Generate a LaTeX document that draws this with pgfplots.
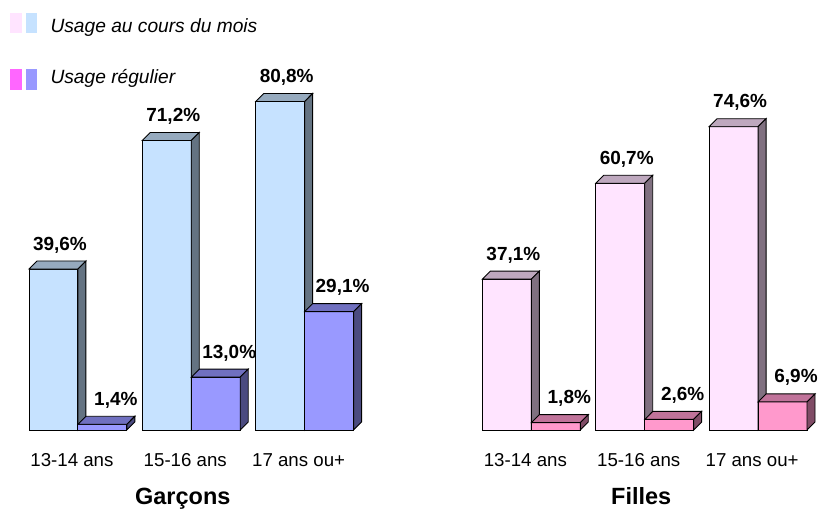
\documentclass[border=0pt]{standalone}
\usepackage{fontspec}
\setmainfont{Liberation Sans}
\usepackage{pgfplots}
\pgfplotsset{compat=1.18}
\definecolor{bmF}{HTML}{C6E2FF}\definecolor{bmT}{HTML}{96AABE}\definecolor{bmS}{HTML}{647382}
\definecolor{brF}{HTML}{9999FF}\definecolor{brT}{HTML}{7070C0}\definecolor{brS}{HTML}{4B4B80}
\definecolor{gmF}{HTML}{FFE4FF}\definecolor{gmT}{HTML}{BEA8BE}\definecolor{gmS}{HTML}{807080}
\definecolor{grF}{HTML}{FF99CC}\definecolor{grT}{HTML}{C0739A}\definecolor{grS}{HTML}{804C66}
\definecolor{legGR}{HTML}{FF66FF}
\pgfplotsset{
  face/.style={draw=black, line width=0.9pt, forget plot},
  front/.style={face, ybar, bar width=49, bar shift=0pt,
    nodes near coords={\pgfmathprintnumber[fixed,fixed zerofill,precision=1,use comma]{\pgfplotspointmeta}\%},
    every node near coord/.append style={font=\fontsize{19}{22}\bfseries\selectfont, text=black, anchor=base, yshift=19pt}},
  frontM/.style={front, every node near coord/.append style={xshift=6.5pt}},
  frontR/.style={front, every node near coord/.append style={xshift=13.5pt}},
}
\begin{document}
\begin{tikzpicture}
\begin{axis}[
  width=821pt, height=515pt, scale only axis,
  xmin=0, xmax=821, ymin=-20.76, ymax=105.77,
  axis lines=none, clip=false,
  /pgf/number format/assume math mode=true,
  legend cell align=left,
  legend style={at={(axis cs:10,102.9)}, anchor=north west, draw=none, fill=none,
    inner sep=0pt, row sep=23pt, nodes={inner sep=0pt},
    font=\fontsize{19.2}{22}\itshape\selectfont},
]
\path (rel axis cs:0,0) rectangle (rel axis cs:1,1);
\addlegendimage{legend image code/.code={\fill[gmF] (0pt,-6.1pt) rectangle (11pt,13.2pt); \fill[bmF] (16pt,-6.1pt) rectangle (26pt,13.2pt); \path (0pt,-14pt) (40pt,14pt);}}
\addlegendentry{Usage au cours du mois}
\addlegendimage{legend image code/.code={\fill[legGR] (0pt,-11.8pt) rectangle (11pt,8.2pt); \fill[brF] (16pt,-11.8pt) rectangle (26pt,8.2pt); \path (0pt,-14pt) (40pt,14pt);}}
\addlegendentry{Usage régulier}

% Garcons 13-14
\addplot[frontM, fill=bmF] coordinates {(53.5,39.6)};
\addplot[face, fill=bmT] coordinates {(29,39.6)(78,39.6)(86,41.57)(37,41.57)} -- cycle;
\addplot[face, fill=bmS] coordinates {(78,0)(86,1.97)(86,41.57)(78,39.6)} -- cycle;
\addplot[frontR, fill=brF] coordinates {(102.5,1.4)};
\addplot[face, fill=brT] coordinates {(78,1.4)(127,1.4)(135,3.37)(86,3.37)} -- cycle;
\addplot[face, fill=brS] coordinates {(127,0)(135,1.97)(135,3.37)(127,1.4)} -- cycle;
% Garcons 15-16
\addplot[frontM, fill=bmF] coordinates {(167,71.2)};
\addplot[face, fill=bmT] coordinates {(142.5,71.2)(191.5,71.2)(199.5,73.17)(150.5,73.17)} -- cycle;
\addplot[face, fill=bmS] coordinates {(191.5,0)(199.5,1.97)(199.5,73.17)(191.5,71.2)} -- cycle;
\addplot[frontR, fill=brF] coordinates {(216,13.0)};
\addplot[face, fill=brT] coordinates {(191.5,13)(240.5,13)(248.5,14.97)(199.5,14.97)} -- cycle;
\addplot[face, fill=brS] coordinates {(240.5,0)(248.5,1.97)(248.5,14.97)(240.5,13)} -- cycle;
% Garcons 17+
\addplot[frontM, fill=bmF] coordinates {(280.5,80.8)};
\addplot[face, fill=bmT] coordinates {(256,80.8)(305,80.8)(313,82.77)(264,82.77)} -- cycle;
\addplot[face, fill=bmS] coordinates {(305,0)(313,1.97)(313,82.77)(305,80.8)} -- cycle;
\addplot[frontR, fill=brF] coordinates {(329.5,29.1)};
\addplot[face, fill=brT] coordinates {(305,29.1)(354,29.1)(362,31.07)(313,31.07)} -- cycle;
\addplot[face, fill=brS] coordinates {(354,0)(362,1.97)(362,31.07)(354,29.1)} -- cycle;
% Filles 13-14
\addplot[frontM, fill=gmF] coordinates {(507.5,37.1)};
\addplot[face, fill=gmT] coordinates {(483,37.1)(532,37.1)(540,39.07)(491,39.07)} -- cycle;
\addplot[face, fill=gmS] coordinates {(532,0)(540,1.97)(540,39.07)(532,37.1)} -- cycle;
\addplot[frontR, fill=grF] coordinates {(556.5,1.8)};
\addplot[face, fill=grT] coordinates {(532,1.8)(581,1.8)(589,3.77)(540,3.77)} -- cycle;
\addplot[face, fill=grS] coordinates {(581,0)(589,1.97)(589,3.77)(581,1.8)} -- cycle;
% Filles 15-16
\addplot[frontM, fill=gmF] coordinates {(621,60.7)};
\addplot[face, fill=gmT] coordinates {(596.5,60.7)(645.5,60.7)(653.5,62.67)(604.5,62.67)} -- cycle;
\addplot[face, fill=gmS] coordinates {(645.5,0)(653.5,1.97)(653.5,62.67)(645.5,60.7)} -- cycle;
\addplot[frontR, fill=grF] coordinates {(670,2.6)};
\addplot[face, fill=grT] coordinates {(645.5,2.6)(694.5,2.6)(702.5,4.57)(653.5,4.57)} -- cycle;
\addplot[face, fill=grS] coordinates {(694.5,0)(702.5,1.97)(702.5,4.57)(694.5,2.6)} -- cycle;
% Filles 17+
\addplot[frontM, fill=gmF] coordinates {(734.5,74.6)};
\addplot[face, fill=gmT] coordinates {(710,74.6)(759,74.6)(767,76.57)(718,76.57)} -- cycle;
\addplot[face, fill=gmS] coordinates {(759,0)(767,1.97)(767,76.57)(759,74.6)} -- cycle;
\addplot[frontR, fill=grF] coordinates {(783.5,6.9)};
\addplot[face, fill=grT] coordinates {(759,6.9)(808,6.9)(816,8.87)(767,8.87)} -- cycle;
\addplot[face, fill=grS] coordinates {(808,0)(816,1.97)(816,8.87)(808,6.9)} -- cycle;

% category labels
\begin{scope}[every node/.style={anchor=base, font=\fontsize{18.7}{22}\selectfont}]
\node at (axis cs:72,-8.97) {13-14 ans};
\node at (axis cs:185.5,-8.97) {15-16 ans};
\node at (axis cs:299,-8.97) {17 ans ou+};
\node at (axis cs:526,-8.97) {13-14 ans};
\node at (axis cs:639.5,-8.97) {15-16 ans};
\node at (axis cs:753,-8.97) {17 ans ou+};
\end{scope}
\node[anchor=base, font=\fontsize{23.5}{28}\bfseries\selectfont] at (axis cs:183,-18.3) {Garçons};
\node[anchor=base, font=\fontsize{23.5}{28}\bfseries\selectfont] at (axis cs:642,-18.3) {Filles};
\end{axis}
\end{tikzpicture}
\end{document}
